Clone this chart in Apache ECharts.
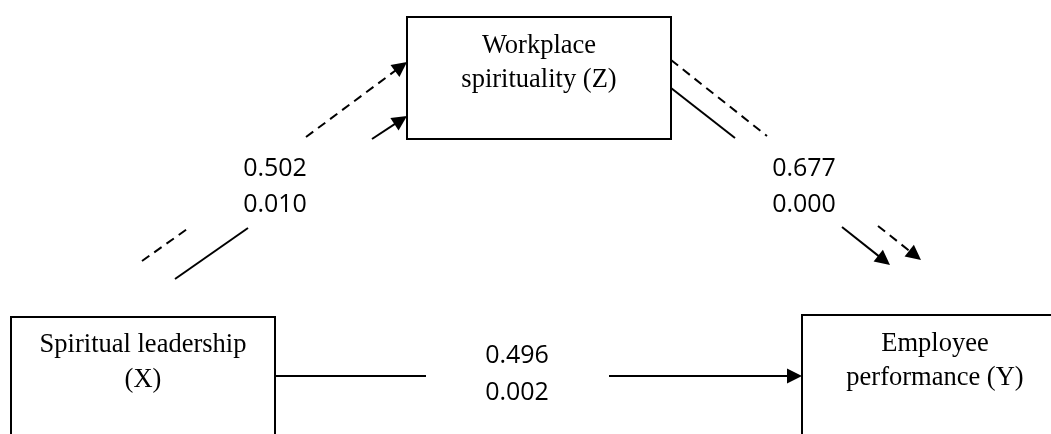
<!DOCTYPE html>
<html>
<head>
<meta charset="utf-8">
<script src="https://cdn.jsdelivr.net/npm/echarts@6/dist/echarts.min.js"></script>
<style>
  html, body { margin: 0; padding: 0; background: #fff; }
  #chart { width: 1051px; height: 434px; }
</style>
</head>
<body>
<div id="chart"></div>
<script>
// model content
var nodeLabels = ['Workplace\nspirituality (Z)', 'Spiritual leadership\n(X)', 'Employee\nperformance (Y)'];
var pathCoef = ['0.502', '0.677', '0.496'];
var pathSig = ['0.010', '0.000', '0.002'];

// layout, in page pixels (hidden axes map 1:1 onto the canvas)
var nodeBoxes = [[407, 17, 671, 139], [11, 317, 275, 460], [802, 315, 1068, 460]];
var nodeTextPos = [[539, 63], [143, 363], [935, 361]];
var nodeLineHeight = [34, 35, 34];
var pathLabelPos = [[275, 187], [804, 187], [517, 374.5]];
// broken path pieces: x1, y1, x2, y2, dashed?, arrow at end?
var segments = [
  [175, 279, 248, 228, 0, 0], [372, 139, 407, 116, 0, 1],
  [142, 261, 190, 227, 1, 0], [306, 137, 407, 62, 1, 1],
  [671, 60, 767, 136, 1, 0], [878, 226, 921, 260, 1, 1],
  [671, 88, 735, 138, 0, 0], [842, 227, 890, 265, 0, 1],
  [275, 376, 426, 376, 0, 0], [609, 376, 802, 376, 0, 1]
];

var ARROW = [13, 15];

// pull the end back so the triangle's tip sits on the end point
function shorten(s, d) {
  var dx = s[2] - s[0], dy = s[3] - s[1];
  var L = Math.sqrt(dx * dx + dy * dy);
  return [s[2] - dx / L * d, s[3] - dy / L * d];
}

function lineItems(withArrow) {
  return segments.filter(function (s) { return !!s[5] === withArrow; }).map(function (s) {
    var end = withArrow ? shorten(s, ARROW[1] / 2) : [s[2], s[3]];
    return { coords: [[s[0], s[1]], end], lineStyle: { type: s[4] ? [9, 6] : 'solid' } };
  });
}

var chart = echarts.init(document.getElementById('chart'));

var option = {
  animation: false,
  grid: { left: 0, right: 0, top: 0, bottom: 0 },
  xAxis: { type: 'value', min: 0, max: 1051, show: false },
  yAxis: { type: 'value', min: 0, max: 434, inverse: true, show: false },
  series: [
    {
      type: 'custom',
      coordinateSystem: 'cartesian2d',
      data: nodeBoxes,
      encode: { x: [0, 2], y: [1, 3] },
      renderItem: function (params, api) {
        var i = params.dataIndex;
        var p1 = api.coord([api.value(0), api.value(1)]);
        var p2 = api.coord([api.value(2), api.value(3)]);
        var t = api.coord(nodeTextPos[i]);
        return {
          type: 'group',
          children: [
            {
              type: 'rect',
              shape: { x: p1[0], y: p1[1], width: p2[0] - p1[0], height: p2[1] - p1[1] },
              style: { fill: '#fff', stroke: '#000', lineWidth: 2 }
            },
            {
              type: 'text', x: t[0], y: t[1],
              style: {
                text: nodeLabels[i], fill: '#000',
                fontFamily: '"Liberation Serif", "DejaVu Serif", serif', fontSize: 26.5,
                align: 'center', verticalAlign: 'middle', lineHeight: nodeLineHeight[i]
              }
            }
          ]
        };
      }
    },
    {
      type: 'lines',
      coordinateSystem: 'cartesian2d',
      symbol: 'none',
      lineStyle: { color: '#000', width: 2, opacity: 1 },
      data: lineItems(false)
    },
    {
      type: 'lines',
      coordinateSystem: 'cartesian2d',
      symbol: ['none', 'triangle'],
      symbolSize: ARROW,
      lineStyle: { color: '#000', width: 2, opacity: 1 },
      data: lineItems(true)
    },
    {
      type: 'custom',
      coordinateSystem: 'cartesian2d',
      data: pathLabelPos,
      encode: { x: 0, y: 1 },
      renderItem: function (params, api) {
        var i = params.dataIndex;
        var p = api.coord([api.value(0), api.value(1)]);
        return {
          type: 'text', x: p[0], y: p[1],
          style: {
            text: pathCoef[i] + '\n' + pathSig[i], fill: '#000',
            fontFamily: '"Open Sans", "Noto Sans", sans-serif', fontSize: 25,
            align: 'center', verticalAlign: 'middle', lineHeight: 36.5
          }
        };
      }
    }
  ]
};

chart.setOption(option);
window.addEventListener('resize', function () { chart.resize(); });
</script>
</body>
</html>
